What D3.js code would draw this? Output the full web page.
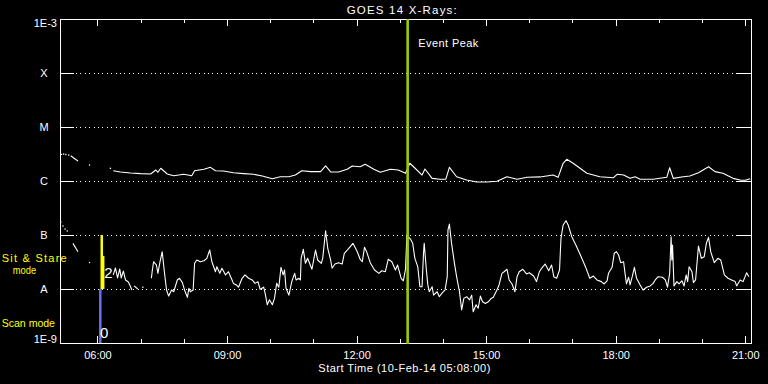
<!DOCTYPE html>
<html><head><meta charset="utf-8">
<script src="https://cdn.jsdelivr.net/npm/d3@7"></script>
<style>
body{margin:0;background:#000;}
svg{display:block;}
text{font-family:"Liberation Sans",Arial,sans-serif;}
</style>
</head><body>
<svg id="c" width="768" height="384"></svg>
<script>
const title = "GOES 14 X-Rays:";
const xLabel = "Start Time (10-Feb-14 05:08:00)";
const startTime = "05:08", endTime = "21:08";
const yTickValues = [1e-9, 1e-8, 1e-7, 1e-6, 1e-5, 1e-4, 1e-3];
const yTickLabels = ["1E-9", "A", "B", "C", "M", "X", "1E-3"];
const xTickTimes = ["06:00", "09:00", "12:00", "15:00", "18:00", "21:00"];
const eventPeakTime = "13:11";
const eventLabel = "Event Peak";
const modeLabels = ["Sit & Stare", "mode", "Scan mode"];
const modeBars = [
  {time: "06:04", lo: 1e-9, hi: 1e-8, mode: 0},
  {time: "06:06", lo: 1e-8, hi: 1e-7, mode: 2},
  {time: "06:08", lo: 1e-8, hi: 4.1e-8, mode: 2}
];

// long channel (1-8 A), W/m^2 ; null = data gap
const longChannel = [
["05:10",3.12e-6],["05:11",null],["05:13",3.16e-6],["05:14",null],["05:16",3.10e-6],["05:18",null],
["05:20",3.03e-6],["05:21",null],["05:23",2.94e-6],["05:27",2.67e-6],["05:30",2.50e-6],["05:33",2.35e-6],
["05:40",null],["05:49",1.98e-6],["06:00",null],["06:18",1.72e-6],["06:20",null],
["06:22",1.55e-6],["06:32",1.47e-6],["06:46",1.41e-6],["07:00",1.37e-6],["07:14",1.35e-6],["07:21",1.60e-6],
["07:24",1.45e-6],["07:28",1.72e-6],["07:37",1.35e-6],["07:46",1.25e-6],["08:00",1.33e-6],["08:11",1.25e-6],
["08:15",1.55e-6],["08:28",1.65e-6],["08:37",1.79e-6],["08:44",1.55e-6],["08:55",1.53e-6],["09:09",1.42e-6],
["09:23",1.37e-6],["09:37",1.33e-6],["09:49",1.24e-6],["10:03",1.10e-6],["10:14",1.20e-6],["10:26",1.20e-6],
["10:35",1.29e-6],["10:44",1.55e-6],["10:56",1.49e-6],["11:10",1.49e-6],["11:17",1.90e-6],["11:24",1.47e-6],
["11:35",1.47e-6],["11:47",1.65e-6],["11:54",1.90e-6],["12:05",1.84e-6],["12:12",2.04e-6],["12:24",1.65e-6],
["12:33",1.45e-6],["12:47",1.65e-6],["12:58",1.60e-6],["13:08",1.39e-6],["13:14",2.13e-6],["13:21",1.74e-6],
["13:31",1.29e-6],["13:35",1.67e-6],["13:45",1.12e-6],["13:56",1.08e-6],["14:04",1.08e-6],["14:09",1.79e-6],
["14:19",1.20e-6],["14:33",1.04e-6],["14:47",0.96e-6],["15:01",0.96e-6],["15:15",0.99e-6],["15:29",1.20e-6],
["15:43",1.08e-6],["15:57",1.17e-6],["16:15",1.19e-6],["16:33",1.29e-6],["16:40",1.17e-6],["16:47",2.13e-6],
["16:52",2.52e-6],["17:01",2.13e-6],["17:20",1.39e-6],["17:38",1.20e-6],["17:57",1.15e-6],["18:02",1.33e-6],
["18:11",1.29e-6],["18:20",1.12e-6],["18:27",1.20e-6],["18:34",1.08e-6],["18:52",1.08e-6],["19:11",1.17e-6],
["19:15",1.76e-6],["19:20",1.12e-6],["19:34",1.20e-6],["19:43",1.24e-6],["19:55",1.42e-6],["20:09",1.84e-6],
["20:18",1.49e-6],["20:29",1.39e-6],["20:43",1.12e-6],["20:53",1.04e-6],["21:00",1.03e-6],["21:07",1.10e-6]
];

// short channel (0.5-4 A), W/m^2 ; null = data gap
const shortChannel = [
["05:09",1.74e-7],["05:10",null],["05:12",1.47e-7],["05:13",null],["05:15",1.29e-7],["05:16",null],
["05:18",1.19e-7],["05:20",null],["05:26",7.0e-8],["05:33",4.9e-8],["05:40",null],["05:49",3.1e-8],["06:00",null],
["06:22",1.82e-8],["06:25",2.45e-8],["06:28",1.60e-8],["06:31",2.35e-8],["06:33",1.60e-8],["06:36",2.15e-8],
["06:39",1.47e-8],["06:43",1.35e-8],["06:48",9.6e-9],["06:49",null],["06:51",1.14e-8],["06:56",1.0e-8],
["06:59",null],["07:03",1.08e-8],["07:09",null],
["07:15",1.58e-8],["07:16",2.09e-8],["07:18",3.20e-8],["07:22",2.78e-8],["07:24",1.95e-8],["07:27",3.20e-8],
["07:30",4.9e-8],["07:33",2.09e-8],["07:36",9.6e-9],["07:39",7.4e-9],["07:43",9.6e-9],["07:46",8.9e-9],
["07:51",1.47e-8],["07:54",1.58e-8],["07:58",1.31e-8],["08:01",9.6e-9],["08:05",7.0e-9],["08:07",1.03e-8],
["08:09",8.9e-9],["08:13",9.6e-9],["08:15",2.99e-8],["08:18",3.44e-8],["08:23",3.20e-8],["08:28",3.34e-8],
["08:32",3.70e-8],["08:36",5.27e-8],["08:39",3.20e-8],["08:44",2.09e-8],["08:46",2.59e-8],["08:50",1.95e-8],
["08:53",2.42e-8],["08:58",1.82e-8],["09:02",2.09e-8],["09:07",1.47e-8],["09:09",1.27e-8],["09:13",1.19e-8],
["09:16",1.08e-8],["09:21",1.58e-8],["09:25",1.82e-8],["09:30",1.58e-8],["09:35",1.47e-8],["09:39",1.27e-8],
["09:43",1.37e-8],["09:46",9.9e-9],["09:51",1.08e-8],["09:53",8.3e-9],["09:56",5.1e-9],["09:59",6.3e-9],
["10:03",5.1e-9],["10:06",6.7e-9],["10:09",1.27e-8],["10:12",1.08e-8],["10:15",2.52e-8],["10:18",1.82e-8],
["10:20",2.25e-8],["10:22",1.03e-8],["10:26",7.7e-9],["10:30",1.37e-8],["10:34",1.95e-8],["10:36",1.47e-8],
["10:40",1.58e-8],["10:42",1.47e-8],["10:43",3.70e-8],["10:46",5.43e-8],["10:49",2.99e-8],["10:52",3.70e-8],
["10:58",2.32e-8],["11:03",5.27e-8],["11:06",3.44e-8],["11:11",2.99e-8],["11:13",3.70e-8],["11:17",1.20e-7],
["11:20",5.67e-8],["11:24",3.44e-8],["11:26",2.42e-8],["11:30",2.90e-8],["11:35",3.07e-8],["11:40",2.90e-8],
["11:43",4.58e-8],["11:48",5.43e-8],["11:55",7.02e-8],["12:01",4.91e-8],["12:05",3.55e-8],["12:08",3.20e-8],
["12:11",5.92e-8],["12:14",4.91e-8],["12:19",3.07e-8],["12:25",2.25e-8],["12:31",1.95e-8],["12:35",2.18e-8],
["12:40",2.09e-8],["12:44",3.55e-8],["12:49",3.20e-8],["12:54",2.25e-8],["12:57",2.78e-8],["13:02",1.58e-8],
["13:05",1.42e-8],["13:08",2.32e-8],["13:10",1.0e-7],["13:15",8.32e-8],["13:18",7.02e-8],["13:21",3.70e-8],
["13:25",2.59e-8],["13:28",1.10e-8],["13:31",1.10e-8],["13:33",4.58e-8],["13:34",7.02e-8],["13:37",2.25e-8],
["13:39",1.19e-8],["13:41",8.9e-9],["13:45",1.10e-8],["13:47",7.7e-9],["13:52",8.9e-9],["13:55",7.2e-9],
["13:59",8.5e-9],["14:03",9.6e-9],["14:06",1.69e-8],["14:07",1.24e-7],["14:09",1.59e-7],["14:12",7.02e-8],
["14:16",2.99e-8],["14:19",1.69e-8],["14:23",8.9e-9],["14:26",4.1e-9],["14:29",6.7e-9],["14:33",7.2e-9],
["14:37",6.3e-9],["14:40",7.7e-9],["14:42",3.8e-9],["14:46",5.1e-9],["14:49",4.4e-9],["14:52",7.4e-9],
["14:55",5.8e-9],["14:59",5.4e-9],["15:03",5.8e-9],["15:07",6.7e-9],["15:10",7.0e-9],["15:15",9.6e-9],
["15:18",1.19e-8],["15:22",1.95e-8],["15:25",2.09e-8],["15:29",2.32e-8],["15:32",1.47e-8],["15:36",1.24e-8],
["15:40",8.9e-9],["15:43",1.69e-8],["15:46",2.09e-8],["15:51",2.32e-8],["15:56",1.90e-8],["16:00",2.00e-8],
["16:06",1.74e-8],["16:10",1.37e-8],["16:14",2.09e-8],["16:17",2.42e-8],["16:22",2.90e-8],["16:27",2.18e-8],
["16:31",2.78e-8],["16:34",1.69e-8],["16:38",1.58e-8],["16:42",2.25e-8],["16:44",8.68e-8],["16:47",1.53e-7],
["16:51",1.84e-7],["16:54",1.53e-7],["16:59",9.3e-8],["17:04",6.81e-8],["17:11",4.26e-8],["17:18",2.59e-8],
["17:24",1.58e-8],["17:29",1.74e-8],["17:34",1.47e-8],["17:40",1.37e-8],["17:44",1.24e-8],["17:48",1.42e-8],
["17:50",1.95e-8],["17:55",2.52e-8],["17:58",4.58e-8],["18:01",4.91e-8],["18:04",4.26e-8],["18:07",3.07e-8],
["18:11",3.20e-8],["18:13",1.95e-8],["18:15",1.24e-8],["18:18",1.65e-8],["18:20",1.19e-8],["18:23",1.69e-8],
["18:26",2.52e-8],["18:29",1.58e-8],["18:34",1.19e-8],["18:38",9.6e-9],["18:43",1.08e-8],["18:48",1.14e-8],
["18:52",1.27e-8],["18:55",1.47e-8],["18:59",1.69e-8],["19:05",1.65e-8],["19:09",1.47e-8],["19:12",1.08e-8],
["19:15",1.95e-8],["19:17",9.3e-8],["19:18",3.44e-8],["19:19",6.52e-8],["19:21",1.14e-8],["19:25",1.37e-8],
["19:28",1.24e-8],["19:32",1.42e-8],["19:35",1.14e-8],["19:38",1.82e-8],["19:40",1.37e-8],["19:42",2.59e-8],
["19:46",2.09e-8],["19:48",1.31e-8],["19:51",1.47e-8],["19:55",6.25e-8],["19:59",3.70e-8],["20:03",3.96e-8],
["20:06",7.02e-8],["20:09",9.06e-8],["20:12",4.91e-8],["20:17",3.07e-8],["20:22",3.70e-8],["20:26",3.44e-8],
["20:31",1.82e-8],["20:36",1.58e-8],["20:41",1.47e-8],["20:46",1.37e-8],["20:48",1.14e-8],["20:53",1.47e-8],
["20:57",1.37e-8],["21:02",2.00e-8],["21:05",1.69e-8]
];

const parseT = d3.timeParse("%H:%M");
const L = 60, R = 751, T = 19, B = 343;
const x = d3.scaleTime().domain([parseT(startTime), parseT(endTime)]).range([L, R]);
const y = d3.scaleLog().domain([1e-9, 1e-3]).range([B, T]);

const svg = d3.select("#c");
svg.append("rect").attr("width", 768).attr("height", 384).attr("fill", "#000");

// dotted decade lines
svg.append("g").attr("shape-rendering", "crispEdges")
  .selectAll("line").data(yTickValues.slice(1, -1)).join("line")
  .attr("x1", 76).attr("x2", 737)
  .attr("y1", d => Math.round(y(d)) + 0.5).attr("y2", d => Math.round(y(d)) + 0.5)
  .attr("stroke", "#fff").attr("stroke-width", 1).attr("stroke-dasharray", "1,3.4");

// axes (ticks)
function styleAxis(g) {
  g.select(".domain").remove();
  g.selectAll("line").attr("stroke", "#fff").attr("shape-rendering", "crispEdges");
  g.selectAll("text").remove();
}
const hourly = d3.timeHour.every(1);
const majors = xTickTimes.map(parseT);
svg.append("g").attr("transform", `translate(0,${B})`).call(d3.axisBottom(x).ticks(hourly).tickSize(-4).tickSizeOuter(0)).call(styleAxis);
svg.append("g").attr("transform", `translate(0,${B})`).call(d3.axisBottom(x).tickValues(majors).tickSize(-7).tickSizeOuter(0)).call(styleAxis);
svg.append("g").attr("transform", `translate(0,${T})`).call(d3.axisTop(x).ticks(hourly).tickSize(-4).tickSizeOuter(0)).call(styleAxis);
svg.append("g").attr("transform", `translate(0,${T})`).call(d3.axisTop(x).tickValues(majors).tickSize(-7).tickSizeOuter(0)).call(styleAxis);
svg.append("g").attr("transform", `translate(${L},0)`).call(d3.axisLeft(y).tickValues(yTickValues).tickSize(-14).tickSizeOuter(0)).call(styleAxis);
svg.append("g").attr("transform", `translate(${R},0)`).call(d3.axisRight(y).tickValues(yTickValues).tickSize(-14).tickSizeOuter(0)).call(styleAxis);

// frame
svg.append("rect").attr("x", L + 0.5).attr("y", T + 0.5).attr("width", R - L).attr("height", B - T)
  .attr("fill", "none").attr("stroke", "#fff").attr("stroke-width", 1).attr("shape-rendering", "crispEdges");

// x tick labels
svg.append("g").selectAll("text").data(majors).join("text")
  .attr("x", d => x(d) + 0.5).attr("y", B + 16).attr("text-anchor", "middle")
  .attr("font-size", 11).attr("fill", "#fff").text(d3.timeFormat("%H:%M"));

// y tick labels
svg.append("g").selectAll("text").data(yTickValues).join("text")
  .attr("x", (d, i) => yTickLabels[i].length > 1 ? 57 : 44)
  .attr("y", (d, i) => i === 0 ? B + 0.3 : (i === yTickValues.length - 1 ? T + 8 : y(d) + 4.3))
  .attr("text-anchor", (d, i) => yTickLabels[i].length > 1 ? "end" : "middle")
  .attr("font-size", 11).attr("fill", "#fff").text((d, i) => yTickLabels[i]);

// title & x label
svg.append("text").attr("x", 346.7).attr("y", 13.5).attr("font-size", 11.5).attr("fill", "#fff")
  .attr("textLength", 110).attr("lengthAdjust", "spacing").text(title);
svg.append("text").attr("x", 318.3).attr("y", 371.5).attr("font-size", 11).attr("fill", "#fff")
  .attr("textLength", 172).attr("lengthAdjust", "spacing").text(xLabel);

// data series
function drawSeries(data) {
  const pts = data.map(([t, v]) => ({t: parseT(t), v}));
  const line = d3.line().defined(d => d.v != null).x(d => x(d.t)).y(d => y(d.v));
  svg.append("path").datum(pts).attr("d", line).attr("fill", "none")
    .attr("stroke", "#fff").attr("stroke-width", 1.1).attr("stroke-linejoin", "round");
  const iso = pts.filter((d, i) => d.v != null && (i === 0 || pts[i - 1].v == null) && (i === pts.length - 1 || pts[i + 1].v == null));
  svg.append("g").selectAll("rect").data(iso).join("rect")
    .attr("x", d => x(d.t) - 0.6).attr("y", d => y(d.v) - 0.6).attr("width", 1.3).attr("height", 1.3).attr("fill", "#fff");
}
drawSeries(longChannel);
drawSeries(shortChannel);

// mode bars
svg.append("g").selectAll("rect").data(modeBars).join("rect")
  .attr("x", d => x(parseT(d.time)) - 1.25).attr("width", 2.5)
  .attr("y", d => y(d.hi)).attr("height", d => y(d.lo) - y(d.hi))
  .attr("fill", d => d.mode === 2 ? "#ffff00" : "#6e6ef0");
svg.append("text").attr("x", x(parseT(modeBars[1].time)) + 2.6).attr("y", y(modeBars[1].lo) - 10.7)
  .attr("font-size", 15).attr("fill", "#fff").text(String(modeBars[1].mode));
svg.append("text").attr("x", x(parseT(modeBars[0].time)) - 0.3).attr("y", y(modeBars[0].lo) - 4.7)
  .attr("font-size", 15).attr("fill", "#fff").text(String(modeBars[0].mode));

// mode labels
svg.append("text").attr("x", 1.7).attr("y", 262.3).attr("font-size", 11).attr("fill", "#ffff00")
  .attr("textLength", 65).attr("lengthAdjust", "spacing").text(modeLabels[0]);
svg.append("text").attr("x", 12.7).attr("y", 274.3).attr("font-size", 11).attr("fill", "#ffff00")
  .attr("textLength", 23.5).attr("lengthAdjust", "spacingAndGlyphs").text(modeLabels[1]);
svg.append("text").attr("x", 1.7).attr("y", 327.3).attr("font-size", 11).attr("fill", "#ffff00")
  .attr("textLength", 53.3).attr("lengthAdjust", "spacingAndGlyphs").text(modeLabels[2]);

// event peak
const ex = x(parseT(eventPeakTime));
svg.append("line").attr("x1", ex).attr("x2", ex).attr("y1", T).attr("y2", B + 1)
  .attr("stroke", "#9bcd00").attr("stroke-width", 2.6);
svg.append("text").attr("x", 418.3).attr("y", 46.7).attr("font-size", 11).attr("fill", "#fff")
  .attr("textLength", 60).attr("lengthAdjust", "spacing").text(eventLabel);
</script>
</body></html>
